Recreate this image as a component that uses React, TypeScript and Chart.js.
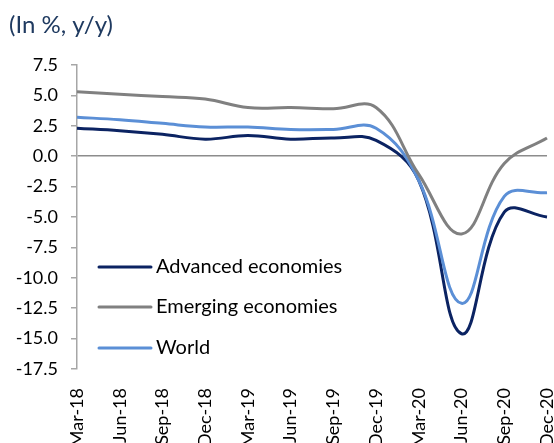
import React, { useEffect, useRef } from "react";
import { Chart, registerables } from "chart.js";

Chart.register(...registerables);

const categories = [
  "Mar-18", "Jun-18", "Sep-18", "Dec-18",
  "Mar-19", "Jun-19", "Sep-19", "Dec-19",
  "Mar-20", "Jun-20", "Sep-20", "Dec-20",
];

const advanced = [2.3, 2.1, 1.8, 1.4, 1.7, 1.4, 1.5, 1.3, -2.0, -14.6, -4.6, -5.0];
const emerging = [5.3, 5.1, 4.9, 4.7, 4.0, 4.0, 3.9, 4.0, -1.5, -6.4, -0.6, 1.5];
const world = [3.2, 3.0, 2.7, 2.4, 2.4, 2.2, 2.2, 2.3, -2.0, -12.1, -3.3, -3.0];

const seriesNames = ["Advanced economies", "Emerging economies", "World"];
const seriesColors = ["#0B2362", "#808080", "#5B8FD6"];

const yMin = -17.5;
const yMax = 7.5;
const yStep = 2.5;
const titleText = "(In %, y/y)";

const FONT = "Lato, 'Open Sans', sans-serif";

export default function App() {
  const ref = useRef<HTMLCanvasElement | null>(null);

  useEffect(() => {
    const canvas = ref.current;
    if (!canvas) return;

    const overlay = {
      id: "overlay",
      afterDraw(chart: any) {
        const ctx = chart.ctx;
        ctx.save();
        // title
        ctx.fillStyle = "#1F3A60";
        ctx.font = `24px ${FONT}`;
        ctx.textAlign = "left";
        ctx.textBaseline = "alphabetic";
        ctx.fillText(titleText, 9, 33);
        // legend
        const ys = [267, 307, 348];
        ctx.font = `20px ${FONT}`;
        ctx.textBaseline = "middle";
        seriesNames.forEach((name, i) => {
          ctx.strokeStyle = seriesColors[i];
          ctx.lineWidth = 3;
          ctx.lineCap = "round";
          ctx.beginPath();
          ctx.moveTo(99, ys[i]);
          ctx.lineTo(151, ys[i]);
          ctx.stroke();
          ctx.fillStyle = "#000000";
          ctx.fillText(name, 156, ys[i]);
        });
        ctx.restore();
      },
    };

    const mk = (label: string, data: number[], color: string) => ({
      label,
      data,
      borderColor: color,
      backgroundColor: color,
      borderWidth: 3,
      pointRadius: 0,
      tension: 0.4,
      fill: false,
    });

    const chart = new Chart(canvas, {
      type: "line",
      data: {
        labels: categories,
        datasets: [
          mk(seriesNames[1], emerging, seriesColors[1]),
          mk(seriesNames[2], world, seriesColors[2]),
          mk(seriesNames[0], advanced, seriesColors[0]),
        ],
      },
      options: {
        animation: false,
        responsive: false,
        devicePixelRatio: 1,
        layout: { padding: { left: 0, top: 65, right: 7, bottom: 0 } },
        plugins: {
          legend: { display: false },
          tooltip: { enabled: false },
          title: { display: false },
        },
        scales: {
          x: {
            offset: false,
            grid: { display: false },
            border: { display: false },
            ticks: {
              autoSkip: false,
              maxRotation: 90,
              minRotation: 90,
              padding: 11,
              labelOffset: 0,
              color: "#000000",
              font: { family: FONT, size: 18 },
            },
            afterFit(scale: any) {
              scale.height = 74;
              scale.paddingLeft = 0;
              scale.paddingRight = 0;
            },
          },
          y: {
            min: yMin,
            max: yMax,
            ticks: {
              stepSize: yStep,
              padding: 13,
              color: "#000000",
              font: { family: FONT, size: 18 },
              callback: (v: any) => Number(v).toFixed(1),
            },
            grid: {
              drawOnChartArea: true,
              tickLength: 6,
              tickColor: "#A6A6A6",
              color: (c: any) => (c.tick && c.tick.value === 0 ? "#8C8C8C" : "rgba(0,0,0,0)"),
              lineWidth: 1.5,
            },
            border: { display: true, color: "#A6A6A6", width: 1.5 },
            afterFit(scale: any) {
              scale.width = 77;
              scale.paddingTop = 0;
              scale.paddingBottom = 0;
            },
          },
        },
      },
      plugins: [overlay],
    } as any);

    return () => chart.destroy();
  }, []);

  return (
    <div style={{ position: "fixed", left: 0, top: 0, width: 554, height: 443, background: "#ffffff" }}>
      <canvas ref={ref} width={554} height={443} style={{ width: 554, height: 443, display: "block" }} />
    </div>
  );
}
